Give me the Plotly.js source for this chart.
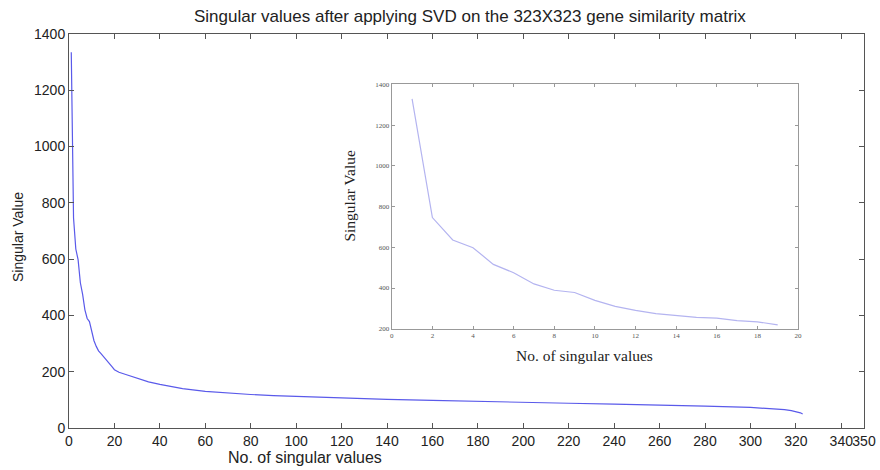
<!DOCTYPE html>
<html>
<head>
<meta charset="utf-8">
<script src="https://cdn.plot.ly/plotly-3.0.1.min.js"></script>
<style>html,body{margin:0;padding:0;background:#fff;}#chart{width:880px;height:470px;}</style>
</head>
<body>
<div id="chart"></div>
<script>
// Main curve: index of singular value and its value
var mainX = [1,2,3,4,5,6,7,8,9,10,11,12,13,14,15,16,17,18,19,20,22,25,30,35,40,45,50,60,70,80,90,100,120,140,160,180,200,220,240,260,280,300,305,310,315,318,320,322,323];
var mainY = [1335,746,636,598,516,475,420,389,378,339,310,290,274,265,256,248,238,228,217,207,198,190,176,164,155,147,140,130,124,119,115,112,107,102,98,94,91,88,85,82,78,73,71,68,65,62,59,54,50];
// Inset: first 19 singular values
var insetX = [1,2,3,4,5,6,7,8,9,10,11,12,13,14,15,16,17,18,19];
var insetY = [1329,746,636,598,516,475,420,389,378,339,310,290,274,265,256,252,240,234,219];
var mainXTicks = [0,20,40,60,80,100,120,140,160,180,200,220,240,260,280,300,320,340,350];
var mainYTicks = [0,200,400,600,800,1000,1200,1400];
var insetXTicks = [0,2,4,6,8,10,12,14,16,18,20];
var insetYTicks = [200,400,600,800,1000,1200,1400];

var traces = [
  {x: mainX, y: mainY, type: 'scatter', mode: 'lines', line: {color: '#5a5aea', width: 1.2}, xaxis: 'x', yaxis: 'y', hoverinfo: 'skip'},
  {x: insetX, y: insetY, type: 'scatter', mode: 'lines', line: {color: '#b4b4f0', width: 1.2}, xaxis: 'x2', yaxis: 'y2', hoverinfo: 'skip'}
];

var sans = 'Liberation Sans, Arial, Helvetica, sans-serif';
var serif = 'Liberation Serif, Times New Roman, serif';

var layout = {
  width: 880, height: 470,
  margin: {l: 69, r: 16, t: 34, b: 42},
  paper_bgcolor: '#ffffff', plot_bgcolor: '#ffffff',
  showlegend: false,
  xaxis: {
    domain: [0, 1], range: [0, 350], tickvals: mainXTicks, tickangle: 0, ticks: 'inside', ticklen: 5, tickcolor: '#555',
    showline: true, linecolor: '#555', linewidth: 1, mirror: 'ticks', showgrid: false, zeroline: false,
    tickfont: {family: sans, size: 14, color: '#222'}
  },
  yaxis: {
    domain: [0, 1], range: [0, 1400], tickvals: mainYTicks, tickangle: 0, ticks: 'inside', ticklen: 5, tickcolor: '#555',
    showline: true, linecolor: '#555', linewidth: 1, mirror: 'ticks', showgrid: false, zeroline: false,
    tickfont: {family: sans, size: 14, color: '#222'}
  },
  xaxis2: {
    domain: [0.406, 0.917], anchor: 'y2', range: [0, 20], tickvals: insetXTicks, tickangle: 0, ticks: 'inside', ticklen: 3, tickcolor: '#999',
    showline: true, linecolor: '#999', linewidth: 1, mirror: 'ticks', showgrid: false, zeroline: false,
    tickfont: {family: serif, size: 7, color: '#555'}
  },
  yaxis2: {
    domain: [0.252, 0.872], anchor: 'x2', range: [200, 1400], tickvals: insetYTicks, tickangle: 0, ticks: 'inside', ticklen: 3, tickcolor: '#999',
    showline: true, linecolor: '#999', linewidth: 1, mirror: 'ticks', showgrid: false, zeroline: false,
    tickfont: {family: serif, size: 7, color: '#555'}
  },
  annotations: [
    {text: 'Singular values after applying SVD on the 323X323 gene similarity matrix', xref: 'paper', yref: 'paper', x: 0.504, y: 1.045, xanchor: 'center', yanchor: 'middle', showarrow: false, font: {family: sans, size: 17, color: '#222'}},
    {text: 'No. of singular values', xref: 'paper', yref: 'paper', x: 0.297, y: -0.076, xanchor: 'center', yanchor: 'middle', showarrow: false, font: {family: sans, size: 16, color: '#222'}},
    {text: 'Singular Value', xref: 'paper', yref: 'paper', x: -0.064, y: 0.485, xanchor: 'center', yanchor: 'middle', textangle: -90, showarrow: false, font: {family: sans, size: 14, color: '#222'}},
    {text: 'Singular Value', xref: 'paper', yref: 'paper', x: 0.353, y: 0.589, xanchor: 'center', yanchor: 'middle', textangle: -90, showarrow: false, font: {family: serif, size: 15.5, color: '#222'}},
    {text: 'No. of singular values', xref: 'paper', yref: 'paper', x: 0.648, y: 0.183, xanchor: 'center', yanchor: 'middle', showarrow: false, font: {family: serif, size: 15.5, color: '#222'}}
  ]
};

Plotly.newPlot('chart', traces, layout, {staticPlot: true, displayModeBar: false});
</script>
</body>
</html>
